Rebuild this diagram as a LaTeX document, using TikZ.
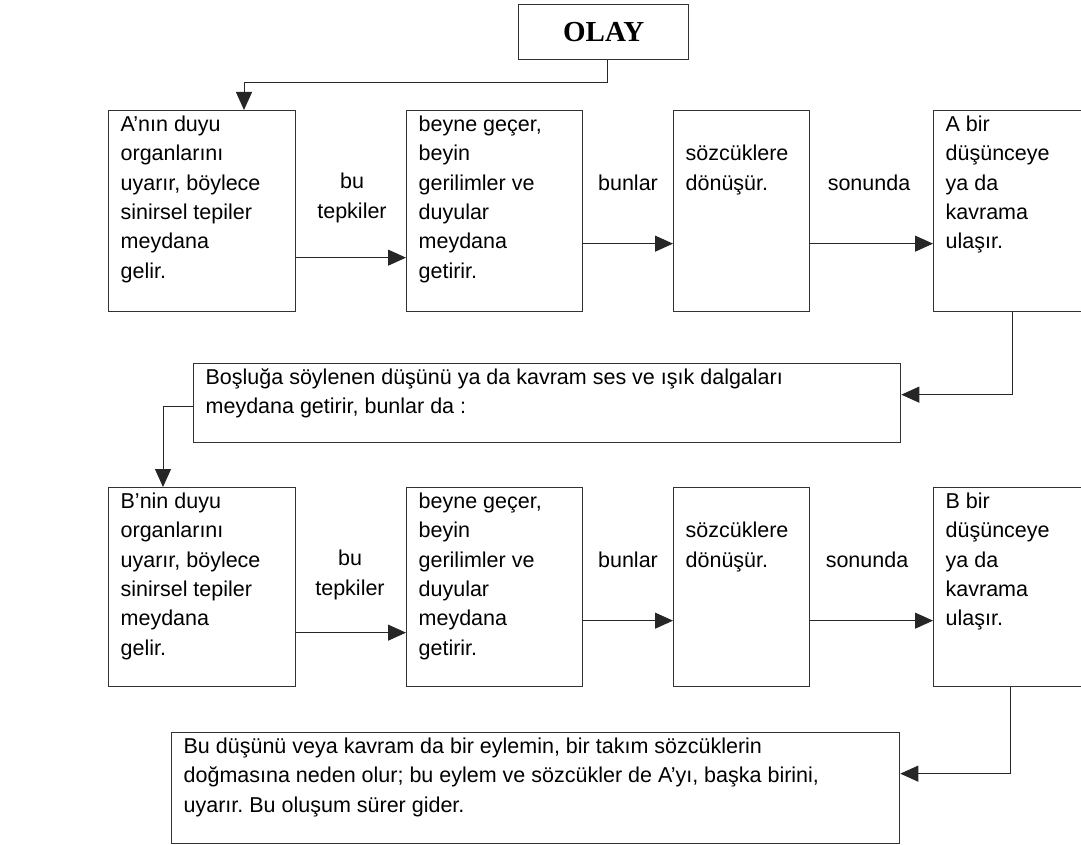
\documentclass[tikz,border=0pt]{standalone}
\usepackage{fontspec}
\setsansfont{Liberation Sans}
\newfontfamily\olayfont{Liberation Serif}
\usetikzlibrary{arrows.meta}
\frenchspacing
\def\stagetext#1#2#3{\parbox[t][#2][t]{#1}{\raggedright\rule{0pt}{21pt}#3}}

\begin{document}
\begin{tikzpicture}[x=1pt,y=-1pt,
					flow/.style={-{Triangle[length=18pt,width=16pt]},line width=1pt,black!85},
					stagebox/.style={draw=black!80,line width=1.3pt,anchor=north west,
						inner xsep=12pt,inner ysep=0pt,
						font=\sffamily\fontsize{21.5}{29.3}\selectfont},
					gaplabel/.style={font=\sffamily\fontsize{21.5}{29.3}\selectfont,align=center,inner sep=0pt}]
					\useasboundingbox (0,0) rectangle (1081,845);
					\clip (0,0) rectangle (1081,845);
					
					\node[draw=black!80,line width=1.3pt,anchor=north west,minimum width=170pt,minimum height=55pt,
						font=\olayfont\bfseries\fontsize{29}{32}\selectfont] (olay) at (518,4) {OLAY};
					
					% first row: A
					\node[stagebox] (A1) at (108,110) {\stagetext{163pt}{201pt}{A’nın duyu\\organlarını\\uyarır, böylece\\sinirsel tepiler\\meydana\\gelir.}};
					\node[stagebox] (A2) at (406,110) {\stagetext{152pt}{201pt}{beyne geçer,\\beyin\\gerilimler ve\\duyular\\meydana\\getirir.}};
					\node[stagebox] (A3) at (673,110) {\stagetext{112pt}{201pt}{\mbox{}\\sözcüklere\\dönüşür.}};
					\node[stagebox] (A4) at (933,110) {\stagetext{146pt}{201pt}{A bir\\düşünceye\\ya da\\kavrama\\ulaşır.}};
					
					\node[gaplabel] (tepA) at (352,198) {bu\\tepkiler};
					\node[gaplabel,anchor=base] (bunA) at (628,191) {bunlar};
					\node[gaplabel,anchor=base] (sonA) at (869,190) {sonunda};
					
					\node[stagebox] (M1) at (193,363) {\stagetext{683pt}{79pt}{Boşluğa söylenen düşünü ya da kavram ses ve ışık dalgaları\\meydana getirir, bunlar da :}};
					
					% second row: B
					\node[stagebox] (B1) at (108,487) {\stagetext{163pt}{199pt}{B’nin duyu\\organlarını\\uyarır, böylece\\sinirsel tepiler\\meydana\\gelir.}};
					\node[stagebox] (B2) at (406,487) {\stagetext{152pt}{199pt}{beyne geçer,\\beyin\\gerilimler ve\\duyular\\meydana\\getirir.}};
					\node[stagebox] (B3) at (673,487) {\stagetext{112pt}{199pt}{\mbox{}\\sözcüklere\\dönüşür.}};
					\node[stagebox] (B4) at (933,487) {\stagetext{146pt}{199pt}{B bir\\düşünceye\\ya da\\kavrama\\ulaşır.}};
					
					\node[gaplabel] (tepB) at (350,575) {bu\\tepkiler};
					\node[gaplabel,anchor=base] (bunB) at (628,567) {bunlar};
					\node[gaplabel,anchor=base] (sonB) at (867,567) {sonunda};
					
					\node[stagebox] (M2) at (171,732) {\stagetext{704pt}{111pt}{Bu düşünü veya kavram da bir eylemin, bir takım sözcüklerin\\doğmasına neden olur; bu eylem ve sözcükler de A’yı, başka birini,\\uyarır. Bu oluşum sürer gider.}};
					
					\draw[flow] ([xshift=4pt]olay.south) -- ++(0,22) -| ([xshift=136pt]A1.north west);
					\draw[flow] ([yshift=-46.5pt]A1.east) -- ([yshift=-46.5pt]A2.west);
					\draw[flow] ([yshift=-32.5pt]A2.east) -- ([yshift=-32.5pt]A3.west);
					\draw[flow] ([yshift=-32.5pt]A3.east) -- ([yshift=-32.5pt]A4.west);
					\draw[flow] ([xshift=79pt]A4.south west) |- ([yshift=8.5pt]M1.east);
					\draw[flow] ([yshift=-3.5pt]M1.west) -| ([xshift=55pt]B1.north west);
					\draw[flow] ([yshift=-45.5pt]B1.east) -- ([yshift=-45.5pt]B2.west);
					\draw[flow] ([yshift=-33.5pt]B2.east) -- ([yshift=-33.5pt]B3.west);
					\draw[flow] ([yshift=-33.5pt]B3.east) -- ([yshift=-33.5pt]B4.west);
					\draw[flow] ([xshift=77pt]B4.south west) |- ([yshift=14.5pt]M2.east);
					\end{tikzpicture}
\end{document}
